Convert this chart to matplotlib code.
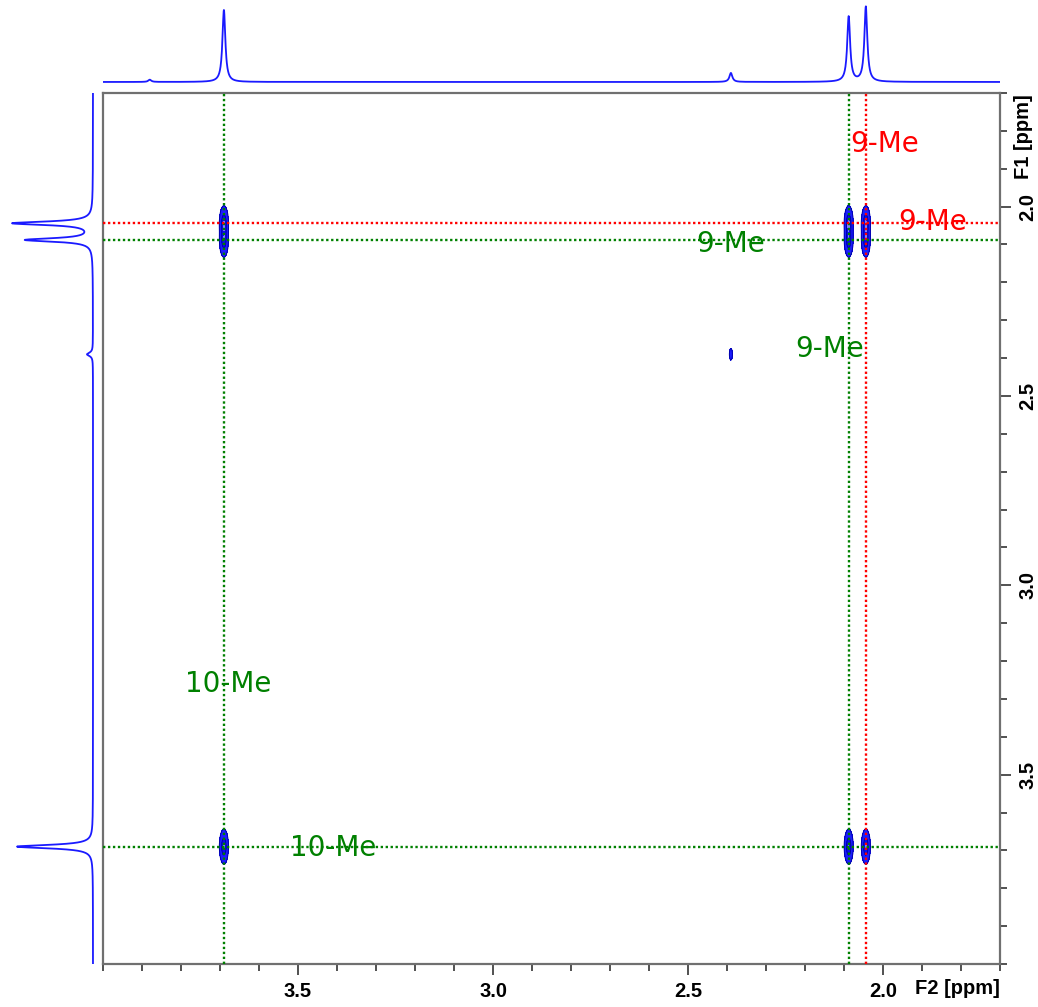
import numpy as np
import matplotlib.pyplot as plt
from matplotlib.ticker import MultipleLocator

# peak list (ppm) and intensities
f2_peaks = [3.690, 2.088, 2.044, 2.390, 3.880]
top_heights = [0.96, 0.87, 1.00, 0.12, 0.03]
f1_peaks = [2.044, 2.088, 3.690, 2.390]
left_heights = [1.00, 0.84, 0.95, 0.075]

# 2D cross peaks: (F2, F1, amplitude)
cross_f2 = [3.690, 3.690, 2.088, 2.088, 2.044, 2.044, 3.690, 2.088, 2.044, 2.390]
cross_f1 = [2.044, 2.088, 2.044, 2.088, 2.044, 2.088, 3.690, 3.690, 3.690, 2.390]
cross_amp = [1.0, 0.9, 1.0, 0.9, 1.0, 0.9, 1.0, 1.0, 1.0, 0.07]

# assignments
labels = ['9-Me', '9-Me', '9-Me', '9-Me', '10-Me', '10-Me']
label_x = [1.997, 1.874, 2.390, 2.136, 3.679, 3.410]
label_y = [1.835, 2.041, 2.100, 2.375, 3.261, 3.695]
label_c = ['red', 'red', 'green', 'green', 'green', 'green']

vlines = [(3.690, 'green'), (2.088, 'green'), (2.044, 'red')]
hlines = [(2.044, 'red'), (2.088, 'green'), (3.690, 'green')]

xlo, xhi = 4.0, 1.7
ylo, yhi = 4.0, 1.7


def lorentz(x, x0, h, w):
    return h * w**2 / ((x - x0)**2 + w**2)


W, H = 1038, 1007
fig = plt.figure(figsize=(W / 100, H / 100), dpi=100)
fig.patch.set_facecolor('white')

L, R, T, B = 103, 1000, 93, 964
ax = fig.add_axes([L / W, 1 - B / H, (R - L) / W, (B - T) / H])
ax_top = fig.add_axes([L / W, 1 - 90 / H, (R - L) / W, 90 / H])
ax_left = fig.add_axes([0, 1 - B / H, 96 / W, (B - T) / H])

# 2D contour
gx = np.linspace(xhi, xlo, 1400)
gy = np.linspace(yhi, ylo, 1400)
X, Y = np.meshgrid(gx, gy)
Z = np.zeros_like(X)
for px, py, a in zip(cross_f2, cross_f1, cross_amp):
    Z += a * np.exp(-0.5 * ((X - px) / 0.0047)**2 - 0.5 * ((Y - py) / 0.019)**2)
ax.contourf(X, Y, Z, levels=[0.05, 0.5, 0.97, 5.0], colors=['#1c1cff', '#0a0af0', '#8080ff'])
ax.contour(X, Y, Z, levels=[0.05, 0.5], colors='#0000a8', linewidths=0.7)

for x0, c in vlines:
    ax.axvline(x0, color=c, lw=1.7, ls=(0, (1, 1.1)), zorder=3)
for y0, c in hlines:
    ax.axhline(y0, color=c, lw=1.7, ls=(0, (1, 1.1)), zorder=3)

for s, x0, y0, c in zip(labels, label_x, label_y, label_c):
    ax.text(x0, y0, s, color=c, fontsize=20, ha='center', va='center', zorder=4)

ax.set_xlim(xlo, xhi)
ax.set_ylim(ylo, yhi)
ax.xaxis.set_minor_locator(MultipleLocator(0.1))
ax.yaxis.set_minor_locator(MultipleLocator(0.1))
ax.yaxis.tick_right()
ax.tick_params(which='major', length=8, width=1.2, color='#333333', direction='out')
ax.tick_params(which='minor', length=4.8, width=1.2, color='#333333', direction='out')
ax.tick_params(axis='x', pad=5)
ax.tick_params(axis='y', pad=5)

tick_font = dict(family=['Liberation Sans', 'DejaVu Sans'], weight='bold', size=14.5)
xt = [3.5, 3.0, 2.5, 2.0]
ax.set_xticks(xt)
ax.set_xticklabels([f'{v:.1f}' for v in xt], **tick_font)
ax.set_yticks(xt)
ax.set_yticklabels([f'{v:.1f}' for v in xt], rotation=90, va='center', **tick_font)
for sp in ax.spines.values():
    sp.set_color('#707070')
    sp.set_linewidth(1.6)
ax.text(1.0, -0.0287, 'F2 [ppm]', transform=ax.transAxes, ha='right', va='center', **tick_font)
ax.text(1.0265, 0.998, 'F1 [ppm]', transform=ax.transAxes, ha='center', va='top', rotation=90, **tick_font)

# 1D projections
xs = np.linspace(xhi, xlo, 4000)
top = np.zeros_like(xs)
for x0, h in zip(f2_peaks, top_heights):
    top += lorentz(xs, x0, h, 0.0045)
ax_top.plot(xs, top, color='#1a1aff', lw=1.3)
ax_top.set_xlim(xlo, xhi)
ax_top.set_ylim(-0.107, 1.093)
ax_top.axis('off')

ys = np.linspace(yhi, ylo, 4000)
left = np.zeros_like(ys)
for y0, h in zip(f1_peaks, left_heights):
    left += lorentz(ys, y0, h, 0.0055)
ax_left.plot(left, ys, color='#1a1aff', lw=1.3)
ax_left.set_ylim(ylo, yhi)
ax_left.set_xlim(1.1625, -0.0375)
ax_left.axis('off')

fig.savefig('out.png', dpi=100)
